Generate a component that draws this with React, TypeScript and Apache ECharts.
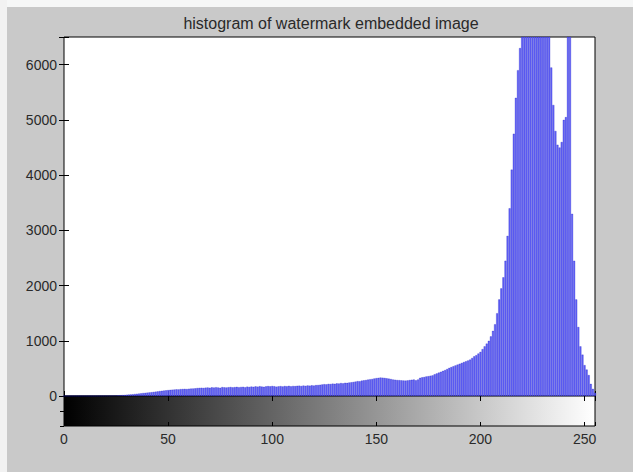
import React, { useEffect, useRef } from "react";
import * as echarts from "echarts";

const TITLE = "histogram of watermark embedded image";
const yTicks = [0, 1000, 2000, 3000, 4000, 5000, 6000];
const xTicks = [0, 50, 100, 150, 200, 250];

// pixel counts per gray level 0..255 (peaks above 6500 are clipped)
const counts = [
  0, 0, 0, 0, 0, 0, 0, 0, 0, 0, 0, 0, 0, 0, 0, 0, 1, 1, 2, 2,
  3, 4, 5, 6, 8, 10, 12, 15,
  18, 20, 24, 28, 30, 33, 38, 42, 45,
  50, 55, 58, 62, 66, 70, 75, 80, 85,
  90, 95, 100, 104, 108, 112,
  115, 118, 122, 120, 126, 128, 130, 127, 133, 135, 138,
  140, 145, 148, 150, 147, 152, 155, 150, 158, 154, 160, 156, 150, 162, 158, 155, 160, 164, 158, 162, 166, 160, 165,
  168, 160, 170, 165, 172, 168, 175, 170, 178, 172, 168, 175, 180, 176,
  182, 178, 170, 176, 180, 174, 182, 178, 185, 176, 183, 180, 186,
  188, 182, 190, 185, 192, 188, 195, 190, 198, 200, 205,
  210, 215, 212, 220, 218, 225, 222, 230, 228, 235, 230, 240, 238, 245, 250, 255,
  262, 270, 268, 280, 285, 290, 298, 305, 310, 318,
  325, 330, 335, 332, 328, 322,
  315, 308, 300, 296, 290, 288, 285, 282, 280, 284, 290,
  295, 300, 285, 300,
  330, 340, 345, 355, 360, 368, 375, 395, 410, 425, 440, 455, 470, 490, 510, 525, 540, 555, 570, 585, 600, 615, 630, 645,
  660, 690, 720, 740, 770, 800, 850, 900, 950, 1000, 1080, 1180, 1300, 1500, 1750, 1950, 2150, 2450, 2900,
  3400, 4100, 4750, 5400, 5900, 6300,
  6900, 7600, 8200, 8800, 9200, 9500, 9700, 9600, 9400, 9100, 8700, 8200, 7600, 6900,
  5950, 5270, 4800, 4550, 4500, 4600, 5000, 5050,
  7200, 7000,
  3300, 2450, 1750, 1250, 900, 750, 560, 480, 380, 220, 130, 60,
];
const levels = counts.map((_, i) => i);

const FONT = "'Liberation Sans', Arial, Helvetica, sans-serif";

export default function App() {
  const ref = useRef<HTMLDivElement>(null);
  useEffect(() => {
    if (!ref.current) return;
    const chart = echarts.init(ref.current, undefined, { renderer: "svg" });
    const tickCommon = { show: true, inside: true, length: 5, lineStyle: { color: "#000", width: 1 } };
    const plain = (v: number) => String(v);
    chart.setOption({
      animation: false,
      backgroundColor: "#c9c9c9",
      graphic: [
        { type: "rect", z: -10, shape: { x: 0, y: 0, width: 633, height: 7 }, style: { fill: "#f6f7f7" }, silent: true },
        { type: "rect", z: -10, shape: { x: 0, y: 0, width: 7, height: 472 }, style: { fill: "#f2f2f2" }, silent: true },
      ],
      title: {
        text: TITLE,
        left: 326,
        top: 10,
        textAlign: "center",
        textStyle: { fontFamily: FONT, fontSize: 16, fontWeight: "normal", color: "#2a2a2a" },
      },
      grid: [
        { left: 64, top: 37, width: 531, height: 359, show: true, backgroundColor: "#ffffff", borderColor: "#000", borderWidth: 1 },
        {
          left: 64, top: 396, width: 531, height: 30, show: true, borderColor: "#000", borderWidth: 1,
          backgroundColor: new echarts.graphic.LinearGradient(0, 0, 1, 0, [
            { offset: 0, color: "#000000" },
            { offset: 1, color: "#ffffff" },
          ]),
        },
      ],
      xAxis: [
        {
          gridIndex: 0, type: "value", min: 0, max: 255, interval: 50, position: "bottom",
          axisLine: { show: false }, axisTick: tickCommon, axisLabel: { show: false }, splitLine: { show: false },
        },
        {
          gridIndex: 0, type: "value", min: 0, max: 255, interval: 50, position: "top",
          axisLine: { show: false }, axisTick: tickCommon, axisLabel: { show: false }, splitLine: { show: false },
        },
        {
          gridIndex: 1, type: "value", min: 0, max: 255, interval: 50, position: "bottom",
          axisLine: { show: false }, axisTick: { ...tickCommon, length: 4 },
          axisLabel: {
            show: true, margin: 6, fontFamily: FONT, fontSize: 14, color: "#2a2a2a",
            customValues: xTicks, formatter: plain,
          },
          splitLine: { show: false },
        },
        {
          gridIndex: 1, type: "value", min: 0, max: 255, interval: 50, position: "top",
          axisLine: { show: false }, axisTick: { ...tickCommon, length: 4 }, axisLabel: { show: false }, splitLine: { show: false },
        },
      ],
      yAxis: [
        {
          gridIndex: 0, type: "value", min: 0, max: 6500, interval: 1000, position: "left",
          axisLine: { show: false }, axisTick: tickCommon,
          axisLabel: { show: true, margin: 7, fontFamily: FONT, fontSize: 14, color: "#2a2a2a", customValues: yTicks, formatter: plain },
          splitLine: { show: false },
        },
        {
          gridIndex: 0, type: "value", min: 0, max: 6500, interval: 1000, position: "right",
          axisLine: { show: false }, axisTick: tickCommon, axisLabel: { show: false }, splitLine: { show: false },
        },
        {
          gridIndex: 1, type: "value", min: 0, max: 2, interval: 1, position: "right",
          axisLine: { show: false }, axisTick: { show: true, inside: true, length: 4, lineStyle: { color: "#000" } },
          axisLabel: { show: false }, splitLine: { show: false },
        },
      ],
      series: [
        {
          type: "bar",
          xAxisIndex: 0,
          yAxisIndex: 0,
          barWidth: 2.1,
          clip: true,
          itemStyle: { color: "#6464f8", borderColor: "rgba(10,10,190,0.5)", borderWidth: 0.5 },
          data: levels.map((l, i) => [l, counts[i]]),
        },
      ],
    });
    return () => chart.dispose();
  }, []);
  return (
    <div
      ref={ref}
      style={{ position: "absolute", left: 0, top: 0, width: 633, height: 472 }}
    />
  );
}
